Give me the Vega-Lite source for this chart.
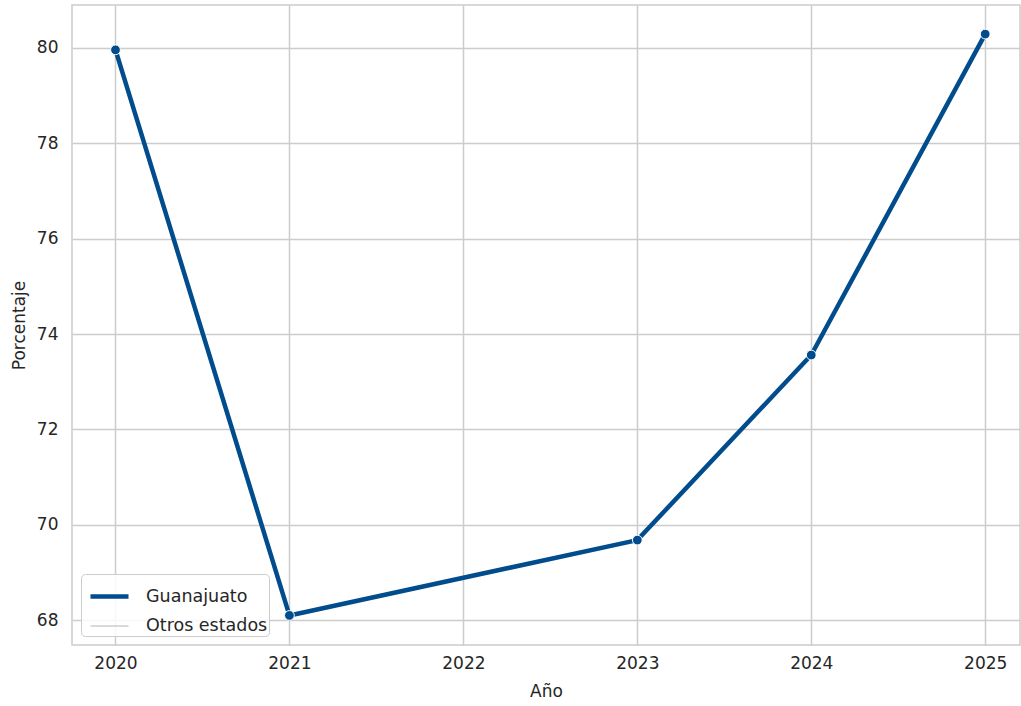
{
  "$schema": "https://vega.github.io/schema/vega-lite/v6.json",
  "autosize": {"type": "none"},
  "width": 948,
  "height": 640,
  "padding": {"left": 72, "top": 5, "right": 1, "bottom": 61},
  "background": "white",
  "config": {
    "font": "DejaVu Sans",
    "view": {"stroke": "#cccccc", "strokeWidth": 1.5},
    "axis": {
      "grid": true,
      "gridColor": "#cccccc",
      "gridWidth": 1.5,
      "domain": false,
      "ticks": false,
      "labelFont": "DejaVu Sans",
      "labelFontSize": 17,
      "labelColor": "#262626",
      "titleFont": "DejaVu Sans",
      "titleFontSize": 17,
      "titleFontWeight": "normal",
      "titleColor": "#262626"
    }
  },
  "data": {
    "values": [
      {"Año": 2020, "Porcentaje": 79.96, "Estado": "Guanajuato"},
      {"Año": 2021, "Porcentaje": 68.10, "Estado": "Guanajuato"},
      {"Año": 2023, "Porcentaje": 69.68, "Estado": "Guanajuato"},
      {"Año": 2024, "Porcentaje": 73.56, "Estado": "Guanajuato"},
      {"Año": 2025, "Porcentaje": 80.29, "Estado": "Guanajuato"}
    ]
  },
  "layer": [
    {
      "mark": {"type": "line", "strokeWidth": 4.5, "strokeCap": "butt", "strokeJoin": "round"},
      "encoding": {
        "x": {
          "field": "Año", "type": "quantitative",
          "scale": {"domain": [2019.75, 2025.2], "nice": false, "zero": false},
          "axis": {"values": [2020, 2021, 2022, 2023, 2024, 2025], "format": "d", "labelPadding": 10, "titlePadding": 12, "title": "Año"}
        },
        "y": {
          "field": "Porcentaje", "type": "quantitative",
          "scale": {"domain": [67.48, 80.9], "nice": false, "zero": false},
          "axis": {"values": [68, 70, 72, 74, 76, 78, 80], "labelPadding": 14, "titlePadding": 8, "title": "Porcentaje"}
        },
        "color": {
          "field": "Estado", "type": "nominal",
          "scale": {"domain": ["Guanajuato", "Otros estados"], "range": ["#004c8c", "#cccccc"]},
          "legend": {
            "title": null,
            "orient": "bottom-left",
            "offset": 9,
            "symbolType": "stroke",
            "symbolSize": 1444,
            "symbolStrokeWidth": 3,
            "symbolOffset": 6,
            "labelFontSize": 17.5,
            "labelColor": "#262626",
            "labelFont": "DejaVu Sans",
            "fillColor": "rgba(255,255,255,0.85)",
            "strokeColor": "#cccccc",
            "cornerRadius": 4,
            "padding": 1,
            "rowPadding": 0,
            "labelOffset": 15
          }
        },
        "strokeWidth": {
          "field": "Estado", "type": "ordinal",
          "scale": {"domain": ["Guanajuato", "Otros estados"], "range": [4.5, 1.5]},
          "legend": null
        }
      }
    },
    {
      "mark": {"type": "point", "filled": true, "size": 95, "stroke": "white", "strokeWidth": 1, "opacity": 1, "color": "#004c8c"},
      "encoding": {
        "x": {"field": "Año", "type": "quantitative"},
        "y": {"field": "Porcentaje", "type": "quantitative"}
      }
    }
  ]
}
